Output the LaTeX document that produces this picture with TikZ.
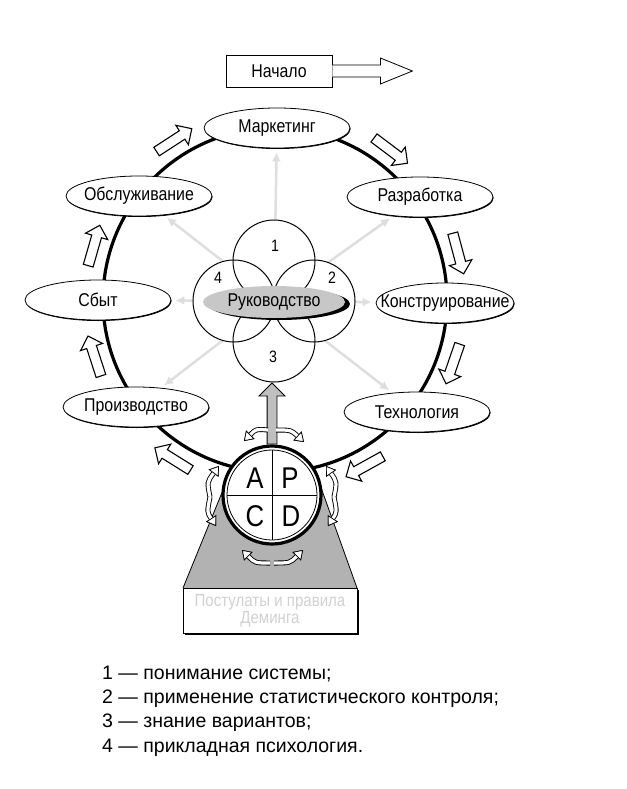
\documentclass[tikz,border=0pt]{standalone}
\usepackage{fontspec}
\setmainfont{Liberation Sans}
\newfontfamily\narrowfont{Liberation Sans}[FakeStretch=0.86]
\usepackage{tikz}
\usetikzlibrary{arrows,arrows.meta,shapes.geometric,shapes.arrows,shadows}

\begin{document}
\begin{tikzpicture}[x=1pt,y=1pt,>=angle 90,
  stage/.style={ellipse,draw,line width=0.8pt,fill=white,minimum width=146pt,
    minimum height=40pt,inner xsep=-20pt,inner ysep=0pt,
    font=\narrowfont\fontsize{18.5}{20}\selectfont,
    drop shadow={shadow xshift=0.6pt,shadow yshift=-1pt,fill=black,opacity=1}},
  spoke/.style={draw=black!13,line width=2.5pt,
    -{Latex[length=9pt 0,width=9pt 0]},shorten >=4pt},
  petal/.style={circle,draw,line width=1pt,minimum size=82pt,inner sep=0pt},
  lead/.style={ellipse,fill=black!22,minimum width=142pt,minimum height=32pt,
    inner xsep=-20pt,inner ysep=0pt,font=\narrowfont\fontsize{18.5}{20}\selectfont,
    drop shadow={shadow xshift=5pt,shadow yshift=-2pt,fill=black,opacity=1}},
  hollow/.style={single arrow,draw,line width=1.1pt,fill=white,minimum height=42pt,
    inner xsep=0pt,inner ysep=4.5pt,single arrow head extend=6.5pt},
  swirl/.style={line width=3.2pt,draw=white,preaction={draw=black,line width=5pt},
    -{Triangle[open,fill=white,color=black,line width=0.7pt,length=9pt 0,width=12pt 0]}},
  letter/.style={font=\narrowfont\fontsize{30}{30}\selectfont}]
  \useasboundingbox (0,0) rectangle (626,-789);

  % ring and flower centres
  \coordinate (hub) at (275,-300);
  \coordinate (core) at (274,-301);

  % the cycle
  \draw[line width=3.2pt] (hub) circle (172);

  \node[stage] (mark) at (277,-128) {Маркетинг};
  \node[stage] (dev)  at (420,-197) {Разработка};
  \node[stage,minimum width=138pt] (cons) at (445,-303) {Конструирование};
  \node[stage] (tech) at (417,-412) {Технология};
  \node[stage] (prod) at (136,-407) {Производство};
  \node[stage] (sale) at (98,-300)  {Сбыт};
  \node[stage] (serv) at (139,-196) {Обслуживание};

  % spokes
  \foreach \s in {mark,dev,cons,tech,prod,sale,serv}
    \draw[spoke] (core) -- (\s);

  % flower
  \foreach \a in {90,0,-90,180}
    \fill[white] ([shift={(\a:40)}]core) circle (41);
  \foreach \a [count=\i] in {90,0,-90,180}
    \node[petal] (p\i) at ([shift={(\a:40)}]core) {};

  \node[lead] (lead) at (274,-302) {Руководство};

  \foreach \x/\y/\n in {275/246/1,332/278/2,273/357/3,218/278/4}
    \node[font=\narrowfont\fontsize{16.5}{16}\selectfont] (n\n) at (\x,-\y) {\n};

  % arrows along the cycle
  \foreach \a [count=\i] in {164,123,53,15,-19,-61,-122,-162}
    \node[hollow,rotate=\a-90] (flow\i) at ([shift={(\a:189)}]hub) {};

  % base
  \fill[black!30] (183,-588) -- (232,-468) -- (314,-468) -- (357,-588) -- cycle;
  \draw[line width=0.8pt] (183,-588) -- (232,-468);
  \draw[line width=0.8pt] (357,-588) -- (314,-468);

  \node[draw,fill=white,line width=0.8pt,minimum width=174pt,minimum height=45pt,
    align=center,text=black!18,font=\narrowfont\fontsize{17.5}{17}\selectfont,
    drop shadow={shadow xshift=1.5pt,shadow yshift=-1.5pt,fill=black,opacity=1}]
    (basis) at (270,-610.5) {Постулаты и правила\\Деминга};

  % PDCA
  \node[circle,draw,line width=3.2pt,fill=white,minimum size=98pt,inner sep=0pt]
    (pdca) at (272,-495) {};
  \draw[line width=0.8pt] (pdca.center) circle (45);
  \draw[line width=0.8pt] ([yshift=45pt]pdca.center) -- ([yshift=-45pt]pdca.center);
  \draw[line width=0.8pt] ([xshift=-45pt]pdca.center) -- ([xshift=45pt]pdca.center);
  \node[letter] (la) at (255,-478) {A};
  \node[letter] (lp) at (290,-478) {P};
  \node[letter] (lc) at (255,-516) {C};
  \node[letter] (ld) at (291,-516) {D};

  \node[single arrow,draw,line width=0.8pt,fill=black!25,rotate=90,anchor=tail,
    minimum height=61pt,inner xsep=0pt,inner ysep=4.5pt,single arrow head extend=8pt]
    (lift) at (pdca.north) {};

  % turning arrows
  \draw[swirl] (268,-430) .. controls (256,-429) .. (244,-441);
  \draw[swirl] (276,-430) .. controls (291,-430) .. (304,-442);
  \draw[swirl] (270,-563) .. controls (255,-563) .. (242,-550);
  \draw[swirl] (274,-563) .. controls (290,-563) .. (303,-550);
  \draw[swirl] (210,-497) .. controls (207,-482) .. (219,-466);
  \draw[swirl] (210,-497) .. controls (207,-512) .. (216,-526);
  \draw[swirl] (334,-497) .. controls (337,-482) .. (326,-466);
  \draw[swirl] (334,-497) .. controls (337,-512) .. (328,-526);

  % start
  \node[draw,fill=white,line width=0.8pt,minimum width=106pt,minimum height=32pt,
    font=\narrowfont\fontsize{18.5}{20}\selectfont,
    drop shadow={shadow xshift=1pt,shadow yshift=-1.5pt,fill=black,opacity=1}]
    (start) at (279,-71) {Начало};
  \draw[fill=white,line width=0.8pt] ([yshift=6pt]start.east) -- ++(48,0) -- ++(0,7)
    -- ++(32,-13) -- ++(-32,-13) -- ++(0,7) -- ([yshift=-6pt]start.east);

  % legend
  \foreach \y/\nodeLabel [count=\i] in {679/1 — понимание системы;,
    703/2 — применение статистического контроля;,
    727/3 — знание вариантов;,
    752/4 — прикладная психология.}
  {
    \node[anchor=base west,inner sep=0pt,font=\fontsize{19.5}{20}\selectfont]
      (key\i) at (102,-\y) {\nodeLabel};
  }
\end{tikzpicture}
\end{document}
